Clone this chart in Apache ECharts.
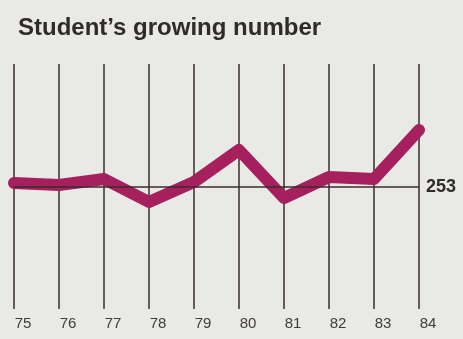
<!DOCTYPE html>
<html>
<head>
<meta charset="utf-8">
<script src="https://cdn.jsdelivr.net/npm/echarts@6/dist/echarts.min.js"></script>
<style>
  html, body { margin: 0; padding: 0; background: #e9e9e6; }
  #chart { width: 463px; height: 339px; }
</style>
</head>
<body>
<div id="chart"></div>
<script>
// years on the x axis
const years = ['75', '76', '77', '78', '79', '80', '81', '82', '83', '84']
// student numbers (reference line = 253)
const students = [257, 255, 261, 238, 258, 290, 242, 263, 261, 310]
const referenceValue = 253

const chart = echarts.init(document.getElementById('chart'))

const option = {
  backgroundColor: '#e9e9e6',
  animation: false,
  title: {
    text: 'Student\u2019s growing number',
    left: 13,
    top: 11,
    textStyle: {
      fontFamily: 'Liberation Sans',
      fontWeight: 'bold',
      fontSize: 24,
      color: '#302a2b'
    }
  },
  grid: {
    left: 14,
    right: 44,
    top: 64,
    bottom: 30
  },
  xAxis: {
    type: 'category',
    data: years,
    boundaryGap: false,
    axisLine: { show: false },
    axisTick: { show: false },
    axisLabel: {
      margin: 7,
      padding: [0, 0, 0, 18], // labels sit a little right of their lines
      fontFamily: 'Liberation Sans',
      fontSize: 15,
      color: '#413b3c'
    },
    splitLine: {
      show: true,
      lineStyle: { color: '#3b2b2e', width: 1.5 }
    }
  },
  yAxis: {
    type: 'value',
    min: 131,
    max: 376,
    show: false,
    splitLine: { show: false }
  },
  series: [
    {
      type: 'line',
      data: students,
      symbol: 'none',
      lineStyle: {
        color: '#a5205d',
        width: 12,
        cap: 'round',
        join: 'round'
      },
      markLine: {
        silent: true,
        symbol: 'none',
        lineStyle: { color: '#3b2b2e', width: 1.5, type: 'solid' },
        label: {
          position: 'end',
          distance: 7,
          formatter: String(referenceValue),
          fontFamily: 'Liberation Sans',
          fontWeight: 'bold',
          fontSize: 18,
          color: '#302a2b'
        },
        data: [{ yAxis: referenceValue }]
      },
      z: 1
    }
  ]
}

chart.setOption(option)
</script>
</body>
</html>
